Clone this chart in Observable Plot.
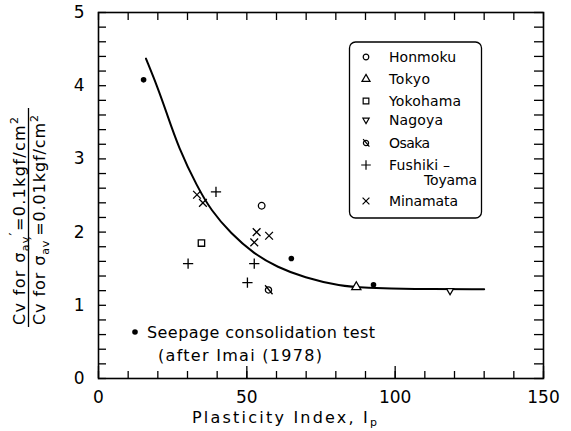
<!DOCTYPE html>
<html><head><meta charset="utf-8">
<script src="https://cdn.jsdelivr.net/npm/d3@7"></script>
<script src="https://cdn.jsdelivr.net/npm/@observablehq/plot@0.6"></script>
<style>
body{margin:0;background:#fff;}
#wrap{position:relative;width:571px;height:431px;font-family:"DejaVu Sans",sans-serif;}
#wrap svg{position:absolute;left:0;top:0;}
</style></head><body><div id="wrap"></div>
<script>
// ---- data ----
const curveIp    = [16.0, 19.9, 22.7, 27.0, 33.4, 37.9, 44.6, 52.5, 60.3, 69.3, 81.6, 90.0, 105.0, 130.0];
const curveRatio = [4.37, 3.98, 3.66, 3.15, 2.61, 2.30, 1.98, 1.70, 1.52, 1.38, 1.26, 1.24, 1.22, 1.22];

const seepageIp = [15.2, 65.0, 92.7],  seepageRatio = [4.08, 1.64, 1.28];
const honmokuIp = [55.0],              honmokuRatio = [2.36];
const tokyoIp = [86.9],                tokyoRatio = [1.25];
const yokohamaIp = [34.7],             yokohamaRatio = [1.85];
const nagoyaIp = [118.5],              nagoyaRatio = [1.20];
const osakaIp = [57.3],                osakaRatio = [1.21];
const fushikiIp = [39.6, 30.2, 52.5, 50.2], fushikiRatio = [2.55, 1.57, 1.57, 1.31];
const minamataIp = [33.2, 35.2, 53.3, 57.5, 52.5], minamataRatio = [2.51, 2.40, 2.00, 1.95, 1.86];

const legendNames = ["Honmoku", "Tokyo", "Yokohama", "Nagoya", "Osaka", "Fushiki –", "Minamata"];
const xTickValues = d3.range(0, 151, 10);
const xMajorTicks = [0, 50, 100, 150];
const yTickValues = [0, 1, 2, 3, 4, 5];
const yMinorTicks = d3.range(0, 26).map(i => i / 5);

// ---- symbols ----
const triangleDown = {draw(ctx, size) {
  const s = Math.sqrt(size) * 0.6824, t = s / 2, u = s * Math.sqrt(3) / 2;
  ctx.moveTo(0, s); ctx.lineTo(u, -t); ctx.lineTo(-u, -t); ctx.closePath();
}};
const osakaSym = {draw(ctx, size) {
  const r = Math.sqrt(size / Math.PI);
  ctx.moveTo(r, 0); ctx.arc(0, 0, r, 0, 2 * Math.PI);
  ctx.moveTo(-1.1 * r, -1.5 * r); ctx.lineTo(1.3 * r, 1.4 * r);
}};

const series = [
  {name: "Honmoku", symbol: "circle", r: 3.3, ip: honmokuIp, ratio: honmokuRatio},
  {name: "Tokyo", symbol: "triangle", r: 3.4, ip: tokyoIp, ratio: tokyoRatio},
  {name: "Yokohama", symbol: "square", r: 3.6, ip: yokohamaIp, ratio: yokohamaRatio},
  {name: "Nagoya", symbol: triangleDown, r: 3.4, ip: nagoyaIp, ratio: nagoyaRatio},
  {name: "Osaka", symbol: osakaSym, r: 3.1, ip: osakaIp, ratio: osakaRatio},
  {name: "Fushiki–Toyama", symbol: "plus", r: 3.4, ip: fushikiIp, ratio: fushikiRatio},
  {name: "Minamata", symbol: "times", r: 3.6, ip: minamataIp, ratio: minamataRatio}
];

const curve = curveIp.map((x, i) => ({x, y: curveRatio[i]}));
const seepage = seepageIp.map((x, i) => ({x, y: seepageRatio[i]}));

const W = 571, H = 431, mL = 98, mR = 28, mT = 12, mB = 53;
const fw = W - mL - mR, fh = H - mT - mB;

const marks = [
  Plot.line(curve, {x: "x", y: "y", curve: "basis", stroke: "#000", strokeWidth: 2}),
  Plot.dot(seepage, {x: "x", y: "y", r: 2.8, fill: "#000", stroke: "none"})
];
for (const s of series) {
  const rows = s.ip.map((x, i) => ({x, y: s.ratio[i]}));
  marks.push(Plot.dot(rows, {x: "x", y: "y", symbol: () => s.symbol, r: s.r, stroke: "#000", strokeWidth: 1.3, fill: "white"}));
}
marks.push(
  Plot.frame({stroke: "#000", strokeWidth: 1.6}),
  // inward ticks
  Plot.tickX(xTickValues, {x: d => d, insetTop: fh - 7, stroke: "#000", strokeWidth: 1.3}),
  Plot.tickX(xMajorTicks, {x: d => d, insetTop: fh - 12, stroke: "#000", strokeWidth: 1.3}),
  Plot.tickX(xTickValues, {x: d => d, insetBottom: fh - 8, stroke: "#000", strokeWidth: 1.3}),
  Plot.tickY(yMinorTicks, {y: d => d, insetRight: fw - 8, stroke: "#000", strokeWidth: 1.3}),
  Plot.tickY(yMinorTicks, {y: d => d, insetLeft: fw - 9, stroke: "#000", strokeWidth: 1.3}),
  Plot.axisX({ticks: xMajorTicks, tickFormat: "d", tickSize: 0, tickPadding: 12, label: null, fontSize: 17}),
  Plot.axisY({ticks: yTickValues, tickFormat: "d", tickSize: 0, tickPadding: 14, label: null, fontSize: 17})
);

const chart = Plot.plot({
  width: W, height: H,
  marginLeft: mL, marginRight: mR, marginTop: mT, marginBottom: mB,
  x: {domain: [0, 150]},
  y: {domain: [0, 5]},
  style: {fontFamily: "DejaVu Sans, sans-serif", fontSize: "17px", color: "#000", background: "transparent"},
  marks
});
const wrap = document.getElementById("wrap");
wrap.appendChild(chart);

// ---- overlay texts (labels, legend, annotation) ----
const ov = d3.select(wrap).append("svg").attr("width", W).attr("height", H)
  .style("font-family", "DejaVu Sans, sans-serif").attr("fill", "#000");

// Y label fraction
function ratioLabel(xBase, value, len) {
  const t = ov.append("text").attr("transform", `translate(${xBase},325) rotate(-90)`)
    .attr("font-size", 16).attr("textLength", len).attr("lengthAdjust", "spacing");
  t.append("tspan").text("Cv  for  σ");
  t.append("tspan").attr("font-size", 11).attr("dy", 4).text("av");
  t.append("tspan").attr("font-size", 13).attr("dy", -11).text("′");
  t.append("tspan").attr("dy", 7).text("=" + value + "kgf/cm");
  t.append("tspan").attr("font-size", 11).attr("dy", -7).text("2");
}
ratioLabel(25, "0.1", 208);
ratioLabel(45, "0.01", 210);
ov.append("line").attr("x1", 28.5).attr("x2", 28.5).attr("y1", 108).attr("y2", 327)
  .attr("stroke", "#000").attr("stroke-width", 1.3);

// X label
const xl = ov.append("text").attr("x", 192).attr("y", 423).attr("font-size", 16)
  .attr("textLength", 185).attr("lengthAdjust", "spacing");
xl.append("tspan").text("Plasticity  Index,  I");
xl.append("tspan").attr("font-size", 11).attr("dy", 3).text("p");

// Annotation
ov.append("circle").attr("cx", 135).attr("cy", 332).attr("r", 2.8);
ov.append("text").attr("x", 147).attr("y", 338).attr("font-size", 16)
  .attr("textLength", 228).attr("lengthAdjust", "spacing").text("Seepage consolidation test");
ov.append("text").attr("x", 158).attr("y", 361).attr("font-size", 16)
  .attr("textLength", 164).attr("lengthAdjust", "spacing").text("(after Imai (1978)");

// Legend
ov.append("rect").attr("x", 349.5).attr("y", 42).attr("width", 132).attr("height", 176).attr("rx", 6)
  .attr("fill", "white").attr("stroke", "#000").attr("stroke-width", 1.3);
const rowsY = [57, 79, 101, 120, 143, 165, 201];
const widths = [67, 41, 72, 54, 41, 61, 69];
const legSyms = [d3.symbolCircle, d3.symbolTriangle, d3.symbolSquare, triangleDown, osakaSym, d3.symbolPlus, d3.symbolTimes];
const legR = [2.8, 3.0, 3.2, 3.0, 2.6, 3.2, 3.2];
legendNames.forEach((name, i) => {
  ov.append("path").attr("transform", `translate(366,${rowsY[i]})`)
    .attr("d", d3.symbol(legSyms[i], Math.PI * legR[i] * legR[i])())
    .attr("fill", "none").attr("stroke", "#000").attr("stroke-width", 1.2);
  ov.append("text").attr("x", 389).attr("y", rowsY[i] + 5).attr("font-size", 14)
    .attr("textLength", widths[i]).attr("lengthAdjust", "spacing").text(name);
});
ov.append("text").attr("x", 477).attr("y", 185).attr("font-size", 14).attr("text-anchor", "end")
  .attr("textLength", 53).attr("lengthAdjust", "spacing").text("Toyama");
</script>
</body></html>
